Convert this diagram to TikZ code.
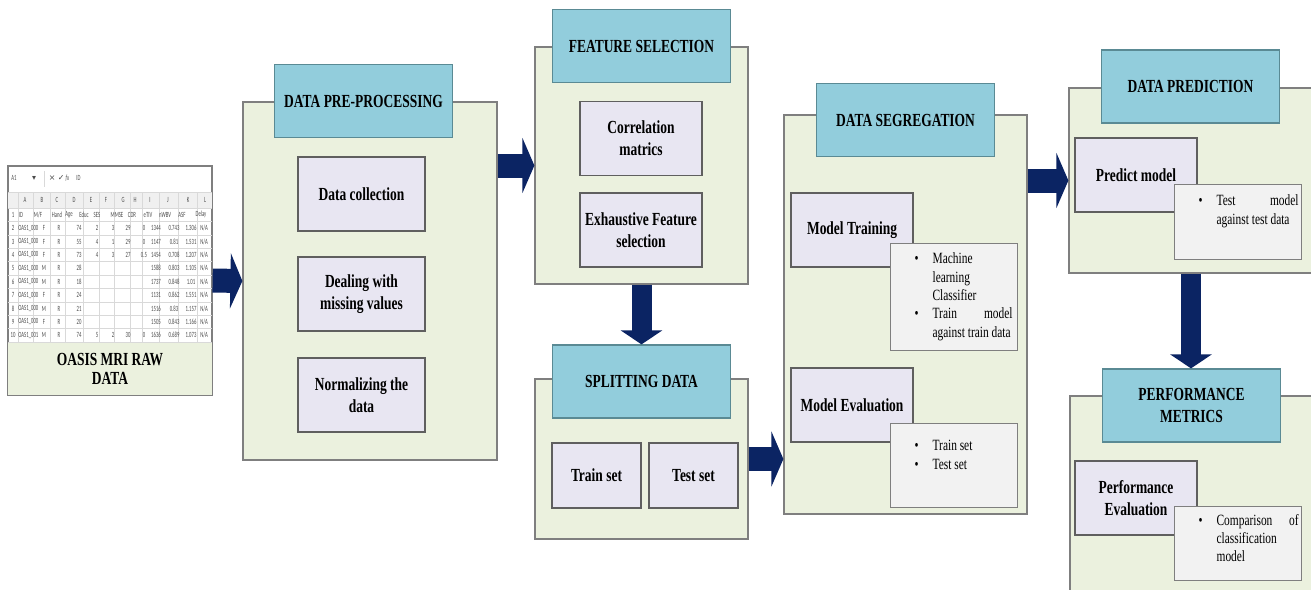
\documentclass[tikz,border=0pt]{standalone}
\usepackage{fontspec}
\setmainfont{Liberation Serif}[FakeStretch=0.73]
\newfontfamily\sheetfont{Carlito}[FakeStretch=0.6]
\newfontfamily\symfont{DejaVu Sans}
\usetikzlibrary{arrows.meta, positioning}

\definecolor{stagefill}{HTML}{EBF1DE}
\definecolor{stageline}{HTML}{7F7F7F}
\definecolor{headfill}{HTML}{92CDDC}
\definecolor{headline}{HTML}{5A8A94}
\definecolor{taskfill}{HTML}{E8E6F2}
\definecolor{taskline}{HTML}{5F5F5F}
\definecolor{notefill}{HTML}{F2F2F2}
\definecolor{arrowblue}{HTML}{0B2463}

\tikzset{
    stage/.style = {rectangle, draw=stageline, fill=stagefill, line width=0.7pt},
    heading/.style = {rectangle, draw=headline, fill=headfill, line width=0.7pt, minimum width=35.6mm, minimum height=14.6mm, align=center, font=\bfseries\fontsize{10.5}{12.5}\selectfont},
    task/.style = {rectangle, draw=taskline, fill=taskfill, line width=0.7pt, inner sep=1pt, minimum width=24.4mm, minimum height=14.8mm, align=center, font=\bfseries\fontsize{10.5}{12.5}\selectfont},
    note/.style = {rectangle, draw=stageline, fill=notefill, line width=0.7pt, inner sep=0pt, anchor=north west, font=\fontsize{8.9}{10.4}\selectfont},
    sheet/.style = {rectangle, draw=stageline, fill=white, line width=0.7pt, minimum width=40.8mm, minimum height=45.8mm},
    grid/.style = {draw=black!15, line width=0.3pt},
    cell/.style = {inner sep=0pt, font=\sheetfont\fontsize{4.5}{5}\selectfont, text=black!70},
    flow/.style = {draw=arrowblue, line width=4.8mm, -{Triangle[length=2.4mm, width=11mm]}},
    drop/.style = {draw=arrowblue, line width=4mm, -{Triangle[length=2.8mm, width=8.2mm]}}
}

% bullet box: height, top gap, rows
\newcommand{\notebody}[3]{\parbox[c][#1][t]{25.4mm}{\vspace*{#2}\hspace*{4.8mm}\begin{tabular}[t]{@{}l@{\hspace{2.8mm}}l@{}}#3\end{tabular}}}

\begin{document}
\begin{tikzpicture}[x=0.2mm, y=-0.2mm]
\useasboundingbox (0,0) rectangle (1311,589);

% raw data sheet
\node[sheet] (rawdata) at (110,280.5) {};
\fill[black!6] (8,192) rectangle (212,208);
\draw[grid] (8,192) -- (212,192);
\foreach \k in {0,...,10}
    \draw[grid] (8,208+13.4*\k) -- (212,208+13.4*\k);
\foreach \xx in {18,33,50,65,83,99,114,130,142,159,178,197}
    \draw[grid] (\xx,192) -- (\xx,342);
\draw[grid] (44,171) -- (44,187);
\node[cell] (cellref) at (14,178) {A1};
\node[cell] (refdrop) at (34,178) {\symfont ▾};
\node[cell] (fxbtn) at (59,178) {{\symfont × ✓} \textit{fx}};
\node[cell, anchor=west] (fxval) at (76,178) {ID};
\foreach \c/\xx in {A/25,B/42,C/57,D/74,E/91,F/106,G/123,H/135,I/150,J/168,K/188,L/205}
    \node[cell] (col\c) at (\xx,200) {\c};
\node[cell] (rn1) at (13,214.7) {1};
\foreach \t/\xx [count=\i] in {ID/21,{M/F}/38,Hand/57,Age/69,Educ/84,SES/97,MMSE/117,CDR/132,eTIV/148,nWBV/165,ASF/182,Delay/201}
    \node[cell] (hd\i) at (\xx,214.7) {\t};
\foreach \n/\id/\sx/\age/\edu/\ses/\mm/\cdr/\etiv/\nw/\asf in {
    2/000/F/74/2/3/29/0/1344/0.743/1.306,
    3/000/F/55/4/1/29/0/1147/0.81/1.531,
    4/000/F/73/4/3/27/0.5/1454/0.708/1.207,
    5/000/M/28/{}/{}/{}/{}/1588/0.803/1.105,
    6/000/M/18/{}/{}/{}/{}/1737/0.848/1.01,
    7/000/F/24/{}/{}/{}/{}/1131/0.862/1.551,
    8/000/M/21/{}/{}/{}/{}/1516/0.83/1.157,
    9/000/F/20/{}/{}/{}/{}/1505/0.843/1.166,
    10/001/M/74/5/2/30/0/1636/0.689/1.073}
{
    \pgfmathsetmacro{\yy}{214.7+13.4*(\n-1)}
    \node[cell] (rn\n) at (13,\yy) {\n};
    \node[cell, anchor=west] (id\n) at (18,\yy) {OAS1\_\id};
    \node[cell] (sx\n) at (44,\yy) {\sx};
    \node[cell] (hand\n) at (59,\yy) {R};
    \node[cell] (age\n) at (79,\yy) {\age};
    \node[cell] (edu\n) at (97,\yy) {\edu};
    \node[cell] (ses\n) at (113,\yy) {\ses};
    \node[cell] (mm\n) at (128,\yy) {\mm};
    \node[cell] (cdr\n) at (144,\yy) {\cdr};
    \node[cell] (etiv\n) at (156,\yy) {\etiv};
    \node[cell] (nw\n) at (174,\yy) {\nw};
    \node[cell] (asf\n) at (191,\yy) {\asf};
    \node[cell] (delay\n) at (204,\yy) {N/A};
}
\node[rectangle, fill=stagefill, minimum width=40.8mm, minimum height=10.4mm, align=center,
      font=\bfseries\fontsize{10.5}{10.5}\selectfont] (rawtitle) at (110,369) {OASIS MRI RAW\\DATA};
\draw[stageline, line width=0.7pt] (rawdata.south west) rectangle (rawdata.north east);

% pre-processing
\node[stage, minimum width=50.8mm, minimum height=71.6mm] (preproc) at (370,281) {};
\node[heading] (preproctitle) at (363.5,101) {DATA PRE-PROCESSING};
\node[task, minimum width=25.4mm] (collect) at (361.5,194) {Data collection};
\node[task, minimum width=25.4mm] (missing) at (361.5,294) {Dealing with\\missing values};
\node[task, minimum width=25.4mm] (normal) at (361.5,395) {Normalizing the\\data};

% feature selection
\node[stage, minimum width=42.6mm, minimum height=47.4mm] (feat) at (641.5,165.5) {};
\node[heading] (feattitle) at (641.5,46) {FEATURE SELECTION};
\node[task] (corr) at (641,138.5) {Correlation\\matrics};
\node[task] (exhaust) at (641,230) {Exhaustive Feature\\selection};

% splitting
\node[stage, minimum width=42.6mm, minimum height=32mm] (split) at (641.5,459) {};
\node[heading] (splittitle) at (641.5,381.5) {SPLITTING DATA};
\node[task, minimum width=17.8mm, minimum height=13mm] (trainset) at (596.5,475.5) {Train set};
\node[task, minimum width=17.8mm, minimum height=13mm] (testset) at (693.5,475.5) {Test set};

% segregation
\node[stage, minimum width=48.6mm, minimum height=79.8mm] (seg) at (905.5,314.5) {};
\node[heading] (segtitle) at (905.5,120) {DATA SEGREGATION};
\node[task] (training) at (852,230) {Model Training};
\node[note] (trainnote) at (890,243) {\notebody{21.4mm}{1.5mm}{%
    \textbullet & Machine\\ & learning\\ & Classifier\\
    \textbullet & \makebox[16mm][s]{Train model}\\ & against train data}};
\node[task] (evaluation) at (852,405) {Model Evaluation};
\node[note] (evalnote) at (890,423) {\notebody{16.8mm}{2.9mm}{%
    \textbullet & Train set\\ \textbullet & Test set}};

% prediction
\node[stage, minimum width=48.8mm, minimum height=37mm] (pred) at (1191,180.5) {};
\node[heading] (predtitle) at (1190.5,86.5) {DATA PREDICTION};
\node[task] (predict) at (1136,175) {Predict model};
\node[note] (prednote) at (1174,184) {\notebody{15mm}{1.7mm}{%
    \textbullet & \makebox[16.4mm][s]{Test model}\\ & against test data}};

% performance
\node[stage, minimum width=48.6mm, minimum height=39.8mm] (perf) at (1191.5,495.5) {};
\node[heading] (perftitle) at (1191.5,405.5) {PERFORMANCE\\METRICS};
\node[task] (perfeval) at (1136,498) {Performance\\Evaluation};
\node[note] (perfnote) at (1174,506) {\notebody{14.8mm}{1.2mm}{%
    \textbullet & \makebox[16.4mm][s]{Comparison of}\\ & classification\\ & model}};

% block arrows
\draw[flow] (rawdata.east) -- (preproc.west);
\draw[flow] (preproc.east |- feat.west) -- (feat.west);
\draw[drop] (feat.south) -- (splittitle.north);
\draw[flow] (split.east) -- (split.east -| seg.west);
\draw[flow] (seg.east |- pred.west) -- (pred.west);
\draw[drop] (pred.south) -- (pred.south |- perftitle.north);

\end{tikzpicture}
\end{document}
